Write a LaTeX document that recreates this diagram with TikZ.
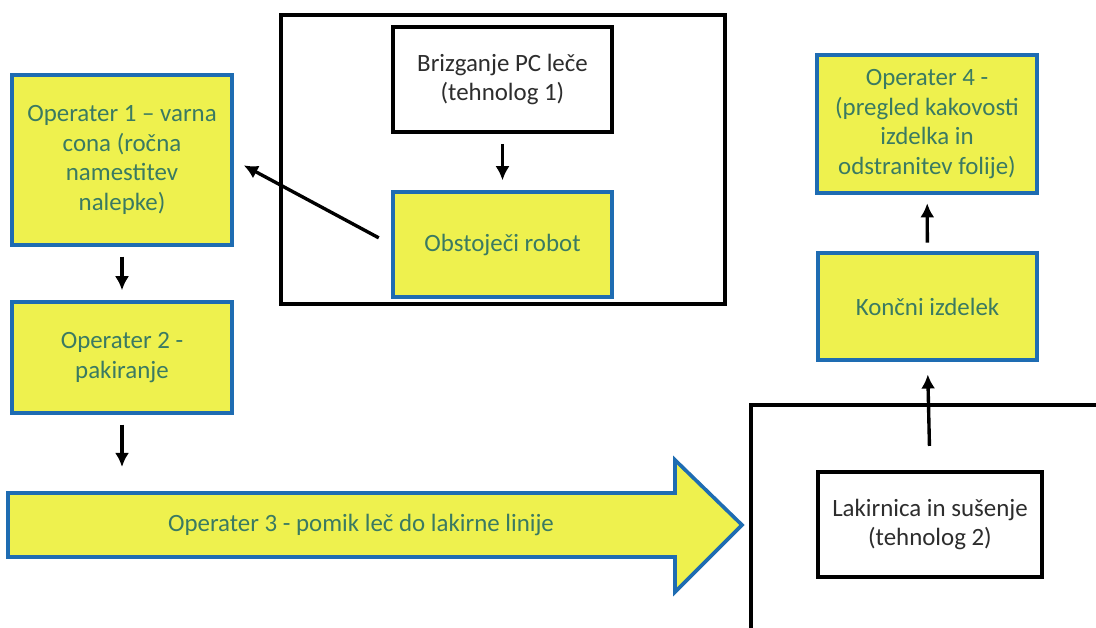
\documentclass[tikz,border=0pt]{standalone}
\usepackage{fontspec}
\setmainfont{Carlito}
\usepackage{tikz}
\usetikzlibrary{arrows.meta}

\definecolor{boxfill}{RGB}{238,241,78}
\definecolor{boxline}{RGB}{30,108,178}
\definecolor{boxtext}{RGB}{58,122,98}
\definecolor{plaintext}{RGB}{45,45,45}

\begin{document}
	\begin{tikzpicture}[x=0.025cm,y=-0.025cm]
		\tikzset{ybox/.style={draw=boxline,fill=boxfill,line width=2.6pt,text=boxtext,align=center,inner sep=0pt,font=\fontsize{17.7}{21}\selectfont}};
		\tikzset{wbox/.style={draw=black,fill=white,line width=3pt,text=plaintext,align=center,inner sep=0pt,font=\fontsize{17.7}{21}\selectfont}};
		\tikzset{frame/.style={draw=black,line width=3pt}};
		\tikzset{conn/.style={-{Latex[length=10pt,width=10pt]},line width=2.4pt,black,shorten <=7pt,shorten >=7pt}};
		\useasboundingbox (0,0) rectangle (1096,628);
		\clip (0,0) rectangle (1096,628);
		\draw[frame] (281,15) rectangle (725,304);
		\draw[frame] (751,405) rectangle (1110,640);
		\draw[ybox] (8,493) -- (675,493) -- (675,460) -- (742,525) -- (675,592) -- (675,557) -- (8,557) -- cycle;
		\draw[] (361,525) node[text=boxtext,font=\fontsize{17.7}{21}\selectfont,inner sep=0pt,minimum height=1.6cm] (op3) {Operater 3 - pomik leč do lakirne linije};
		\coordinate (op3top) at (122,467);
		
		\draw[] (502.5,79.5) node[wbox,minimum width=5.475cm,minimum height=2.625cm] (brizg) {Brizganje PC leče\\(tehnolog 1)};
		\draw[] (502.5,244.5) node[ybox,minimum width=5.475cm,minimum height=2.625cm] (robot) {Obstoječi robot};
		\draw[] (122,160) node[ybox,minimum width=5.5cm,minimum height=4.25cm] (op1) {Operater 1 -- varna\\cona (ročna\\namestitev\\nalepke)};
		\draw[] (122,357.5) node[ybox,minimum width=5.5cm,minimum height=2.775cm] (op2) {Operater 2 -\\pakiranje};
		\draw[] (930,524.5) node[wbox,minimum width=5.6cm,minimum height=2.625cm] (lak) {Lakirnica in sušenje\\(tehnolog 2)};
		\draw[] (927.5,306.5) node[ybox,minimum width=5.475cm,minimum height=2.675cm] (koncni) {Končni izdelek};
		\draw[] (927,124) node[ybox,minimum width=5.5cm,minimum height=3.45cm] (op4) {Operater 4 -\\(pregled kakovosti\\izdelka in\\odstranitev folije)};
		
		\draw[conn] (brizg) -- (robot);
		\draw[conn,shorten <=10pt,shorten >=8pt] (robot.west) -- (op1.east);
		\draw[conn] (op1) -- (op2);
		\draw[conn,shorten >=0pt] (op2.south) -- (op3top);
		\draw[conn,shorten <=17pt,shorten >=9pt] (lak.north) -- (koncni.south);
		\draw[conn,shorten <=6pt,shorten >=6pt] (koncni) -- (op4);
	\end{tikzpicture}
\end{document}
